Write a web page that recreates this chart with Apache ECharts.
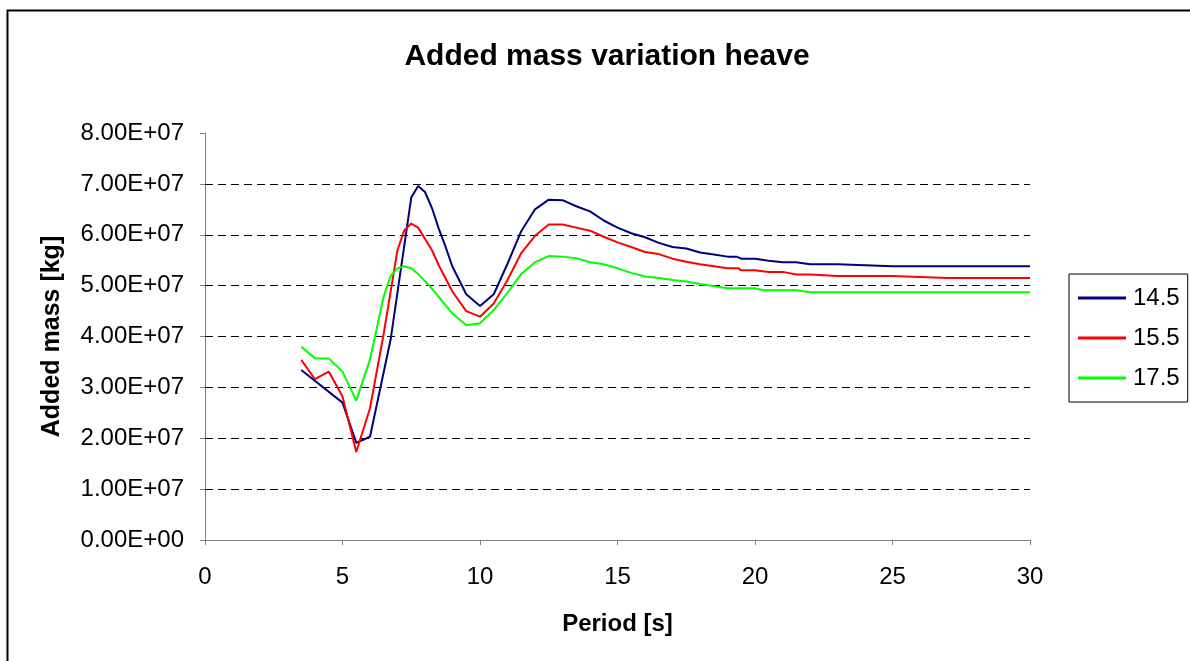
<!DOCTYPE html>
<html>
<head>
<meta charset="utf-8">
<title>Added mass variation heave</title>
<script src="https://cdn.jsdelivr.net/npm/echarts@6/dist/echarts.min.js"></script>
<style>
  html, body { margin: 0; padding: 0; background: #fff; }
  #chart { width: 1190px; height: 661px; }
</style>
</head>
<body>
<div id="chart"></div>
<script>
// values in units of 1e7 kg
var SCALE = 1e7;

var seriesNames = ['14.5', '15.5', '17.5'];
var seriesColors = ['#000080', '#ff0000', '#00ff00'];

var period145 = [3.5, 5.0, 5.5, 6.0, 6.75, 7.5, 7.75, 8.0, 8.25, 8.5, 8.75, 9.0, 9.5, 10.0, 10.5, 11.0, 11.5, 12.0, 12.5, 13.0, 13.5, 14.0, 14.5, 15.0, 15.5, 16.0, 16.5, 17.0, 17.5, 18.0, 18.5, 19.0, 19.33, 19.5, 20.0, 20.5, 21.0, 21.5, 22.0, 23.0, 25.0, 30.0];
var mass145 = [3.34, 2.70, 1.91, 2.03, 3.94, 6.73, 6.96, 6.84, 6.53, 6.12, 5.76, 5.37, 4.83, 4.60, 4.83, 5.43, 6.07, 6.50, 6.69, 6.68, 6.56, 6.46, 6.28, 6.14, 6.03, 5.95, 5.84, 5.76, 5.73, 5.65, 5.61, 5.57, 5.57, 5.53, 5.53, 5.49, 5.46, 5.46, 5.42, 5.42, 5.38, 5.38];

var period155 = [3.5, 4.0, 4.5, 5.0, 5.5, 6.0, 6.5, 7.0, 7.25, 7.5, 7.75, 8.25, 8.5, 9.0, 9.5, 10.0, 10.5, 11.0, 11.5, 12.0, 12.5, 13.0, 13.5, 14.0, 14.5, 15.0, 15.5, 16.0, 16.5, 17.0, 17.5, 18.0, 18.5, 19.0, 19.4, 19.5, 20.0, 20.5, 21.0, 21.5, 22.0, 23.0, 25.0, 27.0, 30.0];
var mass155 = [3.54, 3.16, 3.31, 2.82, 1.73, 2.59, 4.06, 5.70, 6.09, 6.22, 6.14, 5.70, 5.40, 4.88, 4.50, 4.39, 4.65, 5.11, 5.64, 5.98, 6.20, 6.20, 6.14, 6.08, 5.96, 5.85, 5.76, 5.66, 5.62, 5.53, 5.47, 5.42, 5.38, 5.34, 5.34, 5.30, 5.30, 5.27, 5.27, 5.22, 5.22, 5.19, 5.19, 5.15, 5.15];

var period175 = [3.5, 4.0, 4.5, 5.0, 5.5, 6.0, 6.5, 6.75, 7.0, 7.25, 7.5, 7.75, 8.25, 9.0, 9.5, 10.0, 10.5, 11.0, 11.5, 12.0, 12.5, 13.0, 13.5, 14.0, 14.5, 15.0, 15.5, 16.0, 16.5, 17.0, 17.5, 18.0, 18.5, 19.0, 20.0, 20.3, 21.5, 22.0, 30.0];
var mass175 = [3.80, 3.57, 3.57, 3.31, 2.74, 3.55, 4.79, 5.19, 5.34, 5.38, 5.34, 5.23, 4.94, 4.45, 4.22, 4.26, 4.52, 4.86, 5.23, 5.46, 5.58, 5.57, 5.54, 5.46, 5.42, 5.34, 5.25, 5.18, 5.15, 5.11, 5.08, 5.03, 4.99, 4.95, 4.95, 4.91, 4.91, 4.87, 4.87];

// dashed horizontal gridlines (none at 0 and at the top)
var gridValues = [1, 2, 3, 4, 5, 6, 7];

function pairs(xs, ys) {
  var out = [];
  for (var i = 0; i < xs.length; i++) {
    out.push([xs[i], ys[i] * SCALE]);
  }
  return out;
}

function sci(v) {
  if (v === 0) return '0.00E+00';
  var e = Math.floor(Math.log10(Math.abs(v)) + 1e-9);
  var m = v / Math.pow(10, e);
  var es = (e < 0 ? '-' : '+') + (Math.abs(e) < 10 ? '0' : '') + Math.abs(e);
  return m.toFixed(2) + 'E' + es;
}

var chart = echarts.init(document.getElementById('chart'));

var allData = [pairs(period145, mass145), pairs(period155, mass155), pairs(period175, mass175)];
var series = [];
for (var s = 0; s < seriesNames.length; s++) {
  series.push({
    name: seriesNames[s],
    type: 'line',
    data: allData[s],
    showSymbol: false,
    symbol: 'none',
    lineStyle: { color: seriesColors[s], width: 2 },
    itemStyle: { color: seriesColors[s] },
    z: 3
  });
}
// gridlines drawn from the y scale
series[0].markLine = {
  silent: true,
  symbol: ['none', 'none'],
  label: { show: false },
  lineStyle: { color: '#000', type: [8, 5], width: 1 },
  data: gridValues.map(function (g) { return { yAxis: g * SCALE }; }),
  z: 1
};

var option = {
  backgroundColor: '#fff',
  animation: false,
  textStyle: { fontFamily: 'Liberation Sans, Arial, sans-serif' },
  title: {
    text: 'Added mass variation heave',
    left: 602,
    textAlign: 'center',
    top: 37,
    textStyle: { fontSize: 30, fontWeight: 'bold', color: '#000', fontFamily: 'Liberation Sans, Arial, sans-serif' }
  },
  grid: { left: 205, right: 160, top: 133, bottom: 121, containLabel: false },
  legend: {
    orient: 'vertical',
    left: 1069,
    top: 274,
    padding: [12, 8, 12, 9],
    itemGap: 16,
    itemWidth: 48,
    itemHeight: 3,
    icon: 'rect',
    borderColor: '#000',
    borderWidth: 1,
    textStyle: { fontSize: 24, color: '#000', lineHeight: 24, padding: [0, 0, 0, 2] },
    data: seriesNames
  },
  xAxis: {
    type: 'value',
    min: 0,
    max: 30,
    interval: 5,
    name: 'Period [s]',
    nameLocation: 'middle',
    nameGap: 72,
    nameTextStyle: { fontSize: 24, fontWeight: 'bold', color: '#000' },
    axisLine: { lineStyle: { color: '#808080', width: 1 } },
    axisTick: { length: 5, lineStyle: { color: '#808080' } },
    axisLabel: { fontSize: 24, color: '#000', margin: 25 },
    splitLine: { show: false }
  },
  yAxis: {
    type: 'value',
    min: 0,
    max: 8e7,
    interval: 1e7,
    name: 'Added mass [kg]',
    nameLocation: 'middle',
    nameGap: 140,
    nameRotate: 90,
    nameTextStyle: { fontSize: 25, fontWeight: 'bold', color: '#000' },
    axisLine: { show: true, lineStyle: { color: '#808080', width: 1 } },
    axisTick: { show: true, length: 5, lineStyle: { color: '#808080' } },
    axisLabel: { fontSize: 24, color: '#000', margin: 21, formatter: sci },
    splitLine: { show: false }
  },
  graphic: [{
    type: 'rect',
    left: 5,
    top: 8,
    shape: { width: 1250, height: 700 },
    style: { fill: 'none', stroke: '#000', lineWidth: 2 },
    silent: true
  }],
  series: series
};

chart.setOption(option);
</script>
</body>
</html>
